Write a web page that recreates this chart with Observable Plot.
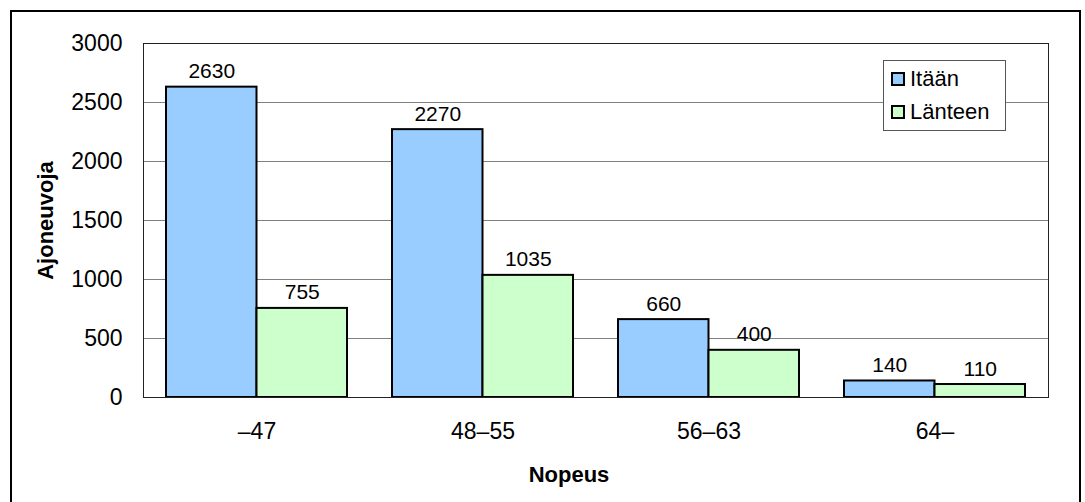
<!DOCTYPE html>
<html>
<head>
<meta charset="utf-8">
<script src="https://cdn.jsdelivr.net/npm/d3@7"></script>
<script src="https://cdn.jsdelivr.net/npm/@observablehq/plot@0.6"></script>
<style>
  html, body { margin: 0; padding: 0; background: #fff; overflow: hidden; }
  body { width: 1085px; height: 502px; position: relative; font-family: Arial, "Liberation Sans", sans-serif; }
  #chart { position: absolute; left: 0; top: 0; }
  #border { position: absolute; left: 10px; top: 10px; width: 1067px; height: 600px; border: 2px solid #000; pointer-events: none; }
  #legend { position: absolute; left: 883px; top: 60px; width: 121px; height: 69px; border: 1px solid #555; background: #fff; }
  .item { position: absolute; left: 7px; display: flex; align-items: center; font-size: 22px; color: #000; }
  .sw { width: 10px; height: 10px; border: 2px solid #000; margin-right: 5px; }
</style>
</head>
<body>
<div id="chart"></div>
<div id="border"></div>
<div id="legend"></div>
<script>
const categories = ["\u201347", "48\u201355", "56\u201363", "64\u2013"];
const seriesNames = ["Itään", "Länteen"];
const itaan = [2630, 2270, 660, 140];
const lanteen = [755, 1035, 400, 110];
const yTicks = [0, 500, 1000, 1500, 2000, 2500, 3000];
const xLabel = "Nopeus";
const yLabel = "Ajoneuvoja";
const colors = ["#99CCFF", "#CCFFCC"];

const W = 1085, H = 502;
const mL = 143, mR = 37, mT = 43, mB = 105;
const step = (W - mL - mR) / categories.length;
const half = step * 0.8 / 2;

const rows = categories.map((c, i) => ({cat: c, a: itaan[i], b: lanteen[i]}));

const plot = Plot.plot({
  width: W, height: H,
  marginLeft: mL, marginRight: mR, marginTop: mT, marginBottom: mB,
  style: {fontFamily: 'Arial, "Liberation Sans", sans-serif', fontSize: "23px", color: "#000", background: "transparent", overflow: "visible"},
  x: {domain: categories, paddingInner: 0.2, paddingOuter: 0.1, label: null, tickSize: 0, tickPadding: 25},
  y: {domain: [0, 3000], ticks: yTicks, tickFormat: d => String(d), label: null, tickSize: 0, tickPadding: 21},
  marks: [
    Plot.gridY(yTicks, {stroke: "#808080", strokeOpacity: 1, strokeWidth: 1}),
    Plot.barY(rows, {x: "cat", y: "a", fill: colors[0], stroke: "#000", strokeWidth: 2, insetRight: half}),
    Plot.barY(rows, {x: "cat", y: "b", fill: colors[1], stroke: "#000", strokeWidth: 2, insetLeft: half}),
    Plot.text(rows, {x: "cat", y: "a", text: d => String(d.a), dx: -half / 2, dy: -9, lineAnchor: "bottom", fill: "#000", fontSize: 21}),
    Plot.text(rows, {x: "cat", y: "b", text: d => String(d.b), dx: half / 2, dy: -9, lineAnchor: "bottom", fill: "#000", fontSize: 21}),
    Plot.frame({stroke: "#222", strokeWidth: 1}),
    Plot.text([xLabel], {text: d => d, frameAnchor: "bottom", dx: -27, dy: 77, fontWeight: "bold", fontSize: 22, textAnchor: "middle", lineAnchor: "middle", fill: "#000"}),
    Plot.text([yLabel], {text: d => d, frameAnchor: "left", dx: -98, rotate: -90, fontWeight: "bold", fontSize: 22, textAnchor: "middle", lineAnchor: "middle", fill: "#000"})
  ]
});
document.getElementById("chart").appendChild(plot);

const legend = document.getElementById("legend");
seriesNames.forEach((n, i) => {
  const it = document.createElement("div");
  it.className = "item";
  it.style.top = (i === 0 ? 5 : 38) + "px";
  const sw = document.createElement("span");
  sw.className = "sw";
  sw.style.background = colors[i];
  const t = document.createElement("span");
  t.textContent = n;
  it.appendChild(sw);
  it.appendChild(t);
  legend.appendChild(it);
});
</script>
</body>
</html>
